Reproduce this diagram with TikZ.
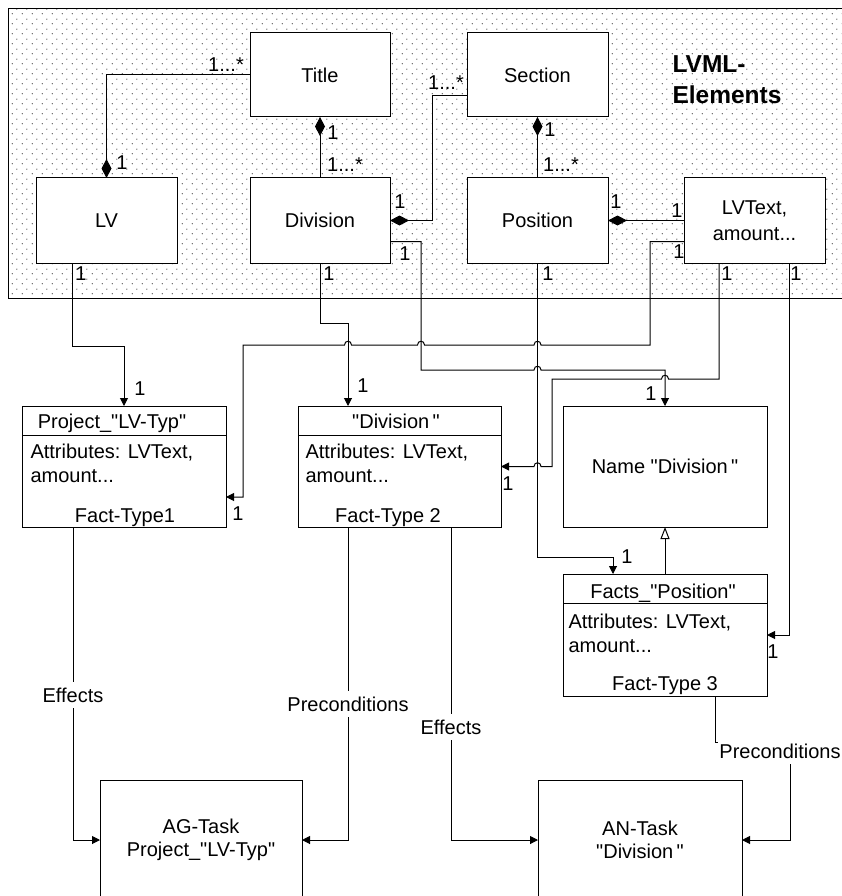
\documentclass[tikz,border=0pt]{standalone}
\usepackage{fontspec}
\setmainfont{Liberation Sans}
\newfontfamily\lsans{Liberation Sans}
\usetikzlibrary{arrows.meta,patterns.meta}
\tikzdeclarepattern{
  name=lvdots,
  type=uncolored,
  bottom left={(0pt,0pt)},
  top right={(10pt,10pt)},
  tile size={(10pt,10pt)},
  code={\fill (2.5pt,2.5pt) circle (0.65pt); \fill (7.5pt,7.5pt) circle (0.65pt);}
}
\newcommand\myhopR[2]{-- ({#1-3.5},#2) .. controls ({#1-3.5},{#2-5}) and ({#1+3.5},{#2-5}) .. ({#1+3.5},#2)}
\newcommand\myhopL[2]{-- ({#1+3.5},#2) .. controls ({#1+3.5},{#2-5}) and ({#1-3.5},{#2-5}) .. ({#1-3.5},#2)}
\begin{document}
\begin{tikzpicture}[x=1pt,y=-1pt,line width=1pt,
  font=\lsans\fontsize{20}{23}\selectfont,
  ubox/.style={draw, fill=white, outer sep=0pt, inner sep=0pt, anchor=north west, align=center},
  arr/.style={-{Triangle[length=8pt,width=8pt]}},
  dia/.style={-{Diamond[length=19pt,width=10pt]}},
  rdia/.style={{Diamond[length=19pt,width=10pt]}-},
  gen/.style={-{Triangle[open,length=12pt,width=9pt]}},
  lbl/.style={inner sep=0pt},
  clbl/.style={fill=white, inner xsep=1pt, inner ysep=6pt},
  txt/.style={inner sep=0pt}
]
\useasboundingbox (0,0) rectangle (842,896);
\clip (0,0) rectangle (842,896);
\fill[white] (0,0) rectangle (842,896);

% dotted LVML region
\path[pattern=lvdots, pattern color=black!75] (8,9) rectangle (850,298);
\draw (850,9) -- (8,9) -- (8,298) -- (850,298);

% boxes (top)
\node[ubox, minimum width=140pt, minimum height=84pt] (title) at (250,33) {Title};
\node[ubox, minimum width=141pt, minimum height=84pt] (section) at (467,33) {Section};
\node[ubox, minimum width=141pt, minimum height=85pt] (lv) at (36,178) {LV};
\node[ubox, minimum width=140pt, minimum height=85pt] (div) at (250,178) {Division};
\node[ubox, minimum width=141pt, minimum height=85pt] (pos) at (467,178) {Position};
\node[ubox, minimum width=141pt, minimum height=85pt, font=\lsans\fontsize{20}{26}\selectfont] (lvtext) at (684,178) {LVText,\\amount...};
\node[txt, anchor=north west, align=left, font=\lsans\bfseries\fontsize{24.5}{31}\selectfont] (lvml) at (672,55) {LVML-\\Elements};

% boxes (middle / bottom)
\node[ubox, minimum width=204pt, minimum height=121pt] (proj) at (22,406) {};
\node[ubox, minimum width=203pt, minimum height=121pt] (dv2) at (298,406) {};
\node[ubox, minimum width=204pt, minimum height=121pt] (name) at (563,406) {Name "Division\,"};
\node[ubox, minimum width=204pt, minimum height=122pt] (facts) at (563,574) {};
\node[ubox, minimum width=202pt, minimum height=120pt] (ag) at (100,780) {AG-Task\\Project\_"LV-Typ"};
\node[ubox, minimum width=204pt, minimum height=120pt] (an) at (538,780) {AN-Task\\"Division\,"};

% header lines
\draw (proj.west |- 0,435) -- (proj.east |- 0,435);
\draw (dv2.west |- 0,435) -- (dv2.east |- 0,435);
\draw (facts.west |- 0,603) -- (facts.east |- 0,603);

% texts in class boxes
\node[txt, anchor=base] (projh) at (112,428) {Project\_"LV-Typ"};
\node[txt, anchor=base west] (proja) at (30,458) {Attributes: LVText,};
\node[txt, anchor=base west] (projb) at (30,482) {amount...};
\node[txt, anchor=base] (projc) at (125,522) {Fact-Type1};
\node[txt, anchor=base] (dv2h) at (396,428) {"Division\,"};
\node[txt, anchor=base west] (dv2a) at (305,458) {Attributes: LVText,};
\node[txt, anchor=base west] (dv2b) at (305,482) {amount...};
\node[txt, anchor=base] (dv2c) at (388,522) {Fact-Type 2};
\node[txt, anchor=base] (factsh) at (663,598) {Facts\_"Position"};
\node[txt, anchor=base west] (factsa) at (568,628) {Attributes: LVText,};
\node[txt, anchor=base west] (factsb) at (568,652) {amount...};
\node[txt, anchor=base] (factsc) at (665,690) {Fact-Type 3};

% top connectors
\draw[dia] (title.west) -| (lv.north);
\draw[rdia] (title.south) -- (div.north);
\draw[dia] ([yshift=-21pt]section.west) -| (432,220.5) -- (div.east);
\draw[rdia] (section.south) -- (pos.north);
\draw[dia] (lvtext.west) -- (pos.east);

% middle connectors
\draw[arr] ([xshift=-34.5pt]lv.south) -- (72,346) -| (proj.north);
\draw[arr] (div.south) -- (320,323) -| ([xshift=-51.5pt]dv2.north);
\draw[arr] ([yshift=-21pt]lvtext.west) -| (650,345) \myhopL{537.5}{345} \myhopL{421}{345} \myhopL{348}{345} -- (243,345) |- ([yshift=-30.5pt]proj.east);
\draw[arr] ([yshift=-21pt]div.east) -| (421,370) \myhopR{537.5}{370} -- (665,370) -- (name.north);
\draw[arr] ([xshift=-35.5pt]lvtext.south) -- (719,379) \myhopL{665}{379} -- (552,379) -- (552,466.5) \myhopL{537.5}{466.5} -- (dv2.east);
\draw[arr] (pos.south) -- (537.5,557) -| ([xshift=-52pt]facts.north);
\draw[arr] ([xshift=34.5pt]lvtext.south) |- (facts.east);
\draw[gen] (facts.north) -- (name.south);

% bottom connectors
\draw[arr] ([xshift=-51pt]proj.south) |- (ag.west);
\draw[arr] ([xshift=-51.5pt]dv2.south) |- (ag.east);
\draw[arr] ([xshift=51.5pt]dv2.south) |- (an.west);
\draw[arr] ([xshift=50pt]facts.south) |- (790,742) |- (an.east);

% connector labels
\node[clbl] (eff1) at (73,695) {Effects};
\node[clbl] (pre1) at (348,704) {Preconditions};
\node[clbl] (eff2) at (451,727) {Effects};
\node[clbl] (pre2) at (780,751) {Preconditions};

% multiplicities
\node[lbl] (l1) at (226,65) {1...*};
\node[lbl] (l2) at (122,163) {1};
\node[lbl] (l3) at (333,133) {1};
\node[lbl] (l4) at (345,165) {1...*};
\node[lbl] (l5) at (446,83) {1...*};
\node[lbl] (l6) at (400,202) {1};
\node[lbl] (l7) at (550,130) {1};
\node[lbl] (l8) at (561,165) {1...*};
\node[lbl] (l9) at (616,202) {1};
\node[lbl] (l10) at (677,211) {1};
\node[lbl] (l11) at (679,252) {1};
\node[lbl] (l12) at (81,274) {1};
\node[lbl] (l13) at (329,274) {1};
\node[lbl] (l14) at (405,254) {1};
\node[lbl] (l15) at (548,274) {1};
\node[lbl] (l16) at (727,274) {1};
\node[lbl] (l17) at (796,274) {1};
\node[lbl] (l18) at (140,389) {1};
\node[lbl] (l19) at (363,386) {1};
\node[lbl] (l20) at (238,514) {1};
\node[lbl] (l21) at (651,394) {1};
\node[lbl] (l22) at (508,484) {1};
\node[lbl] (l23) at (627,557) {1};
\node[lbl] (l24) at (773,652) {1};
\end{tikzpicture}
\end{document}
